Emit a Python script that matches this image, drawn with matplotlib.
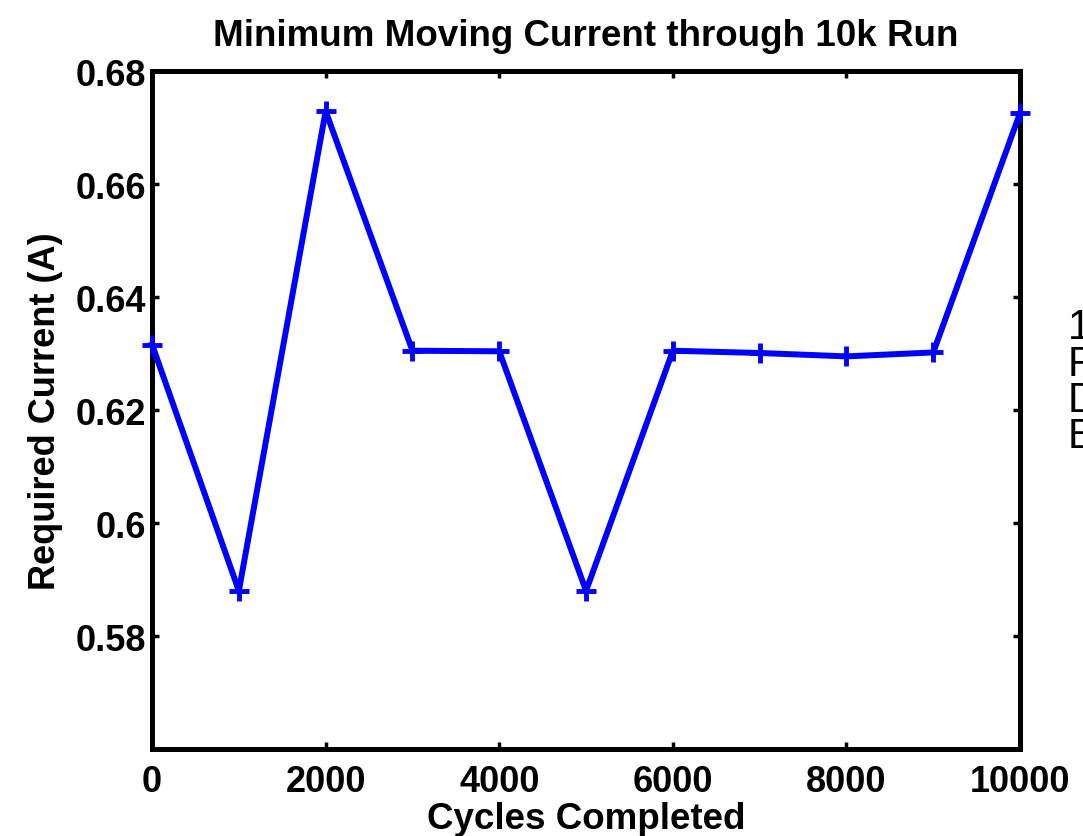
import matplotlib
matplotlib.use('Agg')
import matplotlib.pyplot as plt

# minimum current needed to move, checked every 1000 cycles
cycles = [0, 1000, 2000, 3000, 4000, 5000, 6000, 7000, 8000, 9000, 10000]
current = [0.6316, 0.5880, 0.6729, 0.6305, 0.6304, 0.5880, 0.6305, 0.6301, 0.6295, 0.6302, 0.6726]

xticks = [0, 2000, 4000, 6000, 8000, 10000]
yticks = [0.58, 0.60, 0.62, 0.64, 0.66, 0.68]
ytick_labels = ['0.58', '0.6', '0.62', '0.64', '0.66', '0.68']
side_letters = ['1', 'P', 'D', 'E']

plt.rcParams['font.family'] = ['Liberation Sans', 'DejaVu Sans']

fig = plt.figure(figsize=(10.83, 8.37), dpi=100)
ax = fig.add_axes([0.1404, 0.1039, 0.8015, 0.8100])

ax.plot(cycles, current, color='#0000ff', linewidth=4.3, marker='+',
        markersize=15, markeredgewidth=3.5, clip_on=False, zorder=3)

ax.set_xlim(0, 10000)
ax.set_ylim(0.56, 0.68)
ax.set_xticks(xticks)
ax.set_xticklabels([str(t) for t in xticks])
ax.set_yticks(yticks)
ax.set_yticklabels(ytick_labels)

for s in ax.spines.values():
    s.set_linewidth(3.6)
ax.tick_params(direction='in', length=5, width=2.5, top=True, right=True,
               labelsize=26)
ax.tick_params(axis='x', pad=11)
ax.tick_params(axis='y', pad=4)
for lab in ax.get_xticklabels() + ax.get_yticklabels():
    lab.set_fontweight('bold')

ax.set_title('Minimum Moving Current through 10k Run', fontsize=26.5,
             fontweight='bold', pad=19)
ax.set_xlabel('Cycles Completed', fontsize=26.5, fontweight='bold', labelpad=1)
ax.set_ylabel('Required Current (A)', fontsize=26, fontweight='bold', labelpad=9)

# start of a text column that runs off the right edge
for i, ch in enumerate(side_letters):
    fig.text(1068 / 1083, 1 - (328 + 36.5 * i) / 837, ch, fontsize=30,
             ha='left', va='center', color='black')

fig.savefig('out.png', dpi=100)
